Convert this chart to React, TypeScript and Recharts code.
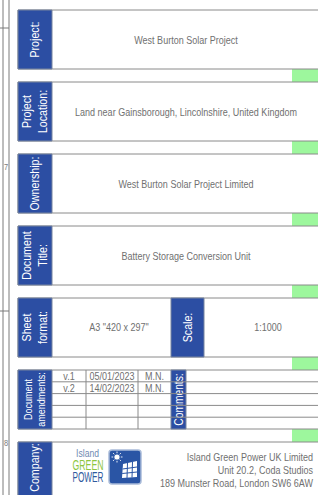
import {
  ComposedChart,
  ReferenceArea,
  ReferenceDot,
  ReferenceLine,
  XAxis,
  YAxis,
} from "recharts";

// title block content
const fieldLabels = [["Project:"], ["Project", "Location:"], ["Ownership:"], ["Document", "Title:"]];
const fieldValues = [
  "West Burton Solar Project",
  "Land near Gainsborough, Lincolnshire, United Kingdom",
  "West Burton Solar Project Limited",
  "Battery Storage Conversion Unit",
];
const sheetLabel = ["Sheet", "format:"];
const sheetValue = 'A3 "420 x 297"';
const scaleLabel = ["Scale:"];
const scaleValue = "1:1000";
const amendLabel = ["Document", "amendments:"];
const revVersions = ["v.1", "v.2", "", "", ""];
const revDates = ["05/01/2023", "14/02/2023", "", "", ""];
const revAuthors = ["M.N.", "M.N.", "", "", ""];
const commentsLabel = ["Comments:"];
const companyLabel = ["Company:"];
const logoWords = ["Island", "GREEN", "POWER"];
const companyAddress = [
  "Island Green Power UK Limited",
  "Unit 20.2, Coda Studios",
  "189 Munster Road, London SW6 6AW",
];
const zoneNumbers = ["7", "8"];
const zoneY = [167, 443];
const zoneTicks = [28, 311];

const W = 318;
const H = 495;
const CW = 330;
const CH = 510;
const TOP0 = 10;
const PITCH = 72;
const ROW_H = 59;
const BOX_L = 18;
const LABEL_R = 52;
const GREEN_L = 292;

const FONT = '"Liberation Sans", Arial, sans-serif';
const NARROW = 0.82; // no narrow face installed, squeeze the regular one
const BLUE = "#2c4ea3";
const GREY_TEXT = "#707070";
const BORDER = "#8a8a8a";
const GREEN = "#9df79d";

const TextLabel = (props: any) => {
  const {
    viewBox,
    lines = [],
    size = 11,
    color = GREY_TEXT,
    rotate = false,
    lh = 15,
    anchor = "middle",
    weight = "normal",
    shift = 0,
    textLength,
  } = props;
  if (!viewBox) return null;
  const cx = viewBox.x + viewBox.width / 2;
  const cy = viewBox.y + viewBox.height / 2 + shift;
  return (
    <g>
      {lines.map((t: string, i: number) => {
        const off = (i - (lines.length - 1) / 2) * lh;
        const x = rotate ? cx + off : cx;
        const y = rotate ? cy : cy + off;
        const sx = textLength ? 1 : NARROW;
        return (
          <text
            key={i}
            x={0}
            y={0}
            fill={color}
            fontSize={size}
            fontFamily={FONT}
            fontWeight={weight}
            textAnchor={anchor}
            dominantBaseline="central"
            textLength={textLength}
            lengthAdjust={textLength ? "spacingAndGlyphs" : undefined}
            transform={`translate(${x} ${y}) rotate(${rotate ? -90 : 0}) scale(${sx} 1)`}
          >
            {t}
          </text>
        );
      })}
    </g>
  );
};

const LogoIcon = (props: any) => {
  const { viewBox } = props;
  if (!viewBox) return null;
  const { x, y } = viewBox;
  const rays = [0, 45, 90, 135, 180, 225, 270, 315];
  return (
    <g>
      <circle cx={x + 8} cy={y + 7} r={2.6} fill="#fff" />
      {rays.map((a) => {
        const r = (a * Math.PI) / 180;
        return (
          <line
            key={a}
            x1={x + 8 + Math.cos(r) * 3.8}
            y1={y + 7 + Math.sin(r) * 3.8}
            x2={x + 8 + Math.cos(r) * 5.5}
            y2={y + 7 + Math.sin(r) * 5.5}
            stroke="#fff"
            strokeWidth={0.9}
          />
        );
      })}
      <polygon
        points={`${x + 14},${y + 14} ${x + 28},${y + 11} ${x + 28},${y + 27} ${x + 13},${y + 28}`}
        fill="#fff"
      />
      <line x1={x + 18.5} y1={y + 13} x2={x + 18} y2={y + 28} stroke="#2a55a5" strokeWidth={1} />
      <line x1={x + 23.5} y1={y + 12} x2={x + 23} y2={y + 27.5} stroke="#2a55a5" strokeWidth={1} />
      <line x1={x + 13.5} y1={y + 19} x2={x + 28} y2={y + 17} stroke="#2a55a5" strokeWidth={1} />
      <line x1={x + 13.2} y1={y + 23.5} x2={x + 28} y2={y + 22} stroke="#2a55a5" strokeWidth={1} />
    </g>
  );
};

const rowTop = (i: number) => TOP0 + PITCH * i;

const box = (i: number) => (
  <ReferenceArea
    key={`box-${i}`}
    x1={BOX_L}
    x2={CW}
    y1={rowTop(i)}
    y2={rowTop(i) + ROW_H}
    fill="#fff"
    fillOpacity={1}
    stroke={BORDER}
    strokeWidth={1}
    ifOverflow="visible"
  />
);

const blueLabel = (
  key: string,
  x1: number,
  x2: number,
  y1: number,
  y2: number,
  lines: string[],
  size = 13,
  lh = 16,
  shift = 0
) => (
  <ReferenceArea
    key={key}
    x1={x1}
    x2={x2}
    y1={y1}
    y2={y2}
    fill={BLUE}
    fillOpacity={1}
    stroke="#76849f"
    strokeWidth={1}
    ifOverflow="visible"
    label={<TextLabel lines={lines} color="#fff" size={size} lh={lh} shift={shift} rotate />}
  />
);

const textDot = (key: string, x: number, y: number, lines: string[], extra: any = {}) => (
  <ReferenceDot
    key={key}
    x={x}
    y={y}
    r={0}
    fill="none"
    stroke="none"
    ifOverflow="visible"
    label={<TextLabel lines={lines} {...extra} />}
  />
);

export default function App() {
  const frame = [
    { x: 0, y: 0 },
    { x: CW, y: CH },
  ];
  const amendTop = rowTop(5);
  const rowStep = ROW_H / 5;
  const companyTop = rowTop(6);
  const sheetTop = rowTop(4);

  return (
    <div style={{ position: "absolute", left: 0, top: 0, width: W, height: H, overflow: "hidden", background: "#fff" }}>
      <ComposedChart width={CW} height={CH} data={frame} margin={{ top: 0, right: 0, bottom: 0, left: 0 }}>
        <XAxis type="number" dataKey="x" domain={[0, CW]} hide allowDataOverflow />
        <YAxis type="number" dataKey="y" domain={[0, CH]} reversed hide allowDataOverflow />

        {/* drawing frame at the left edge */}
        <ReferenceLine x={3} stroke="#7a7a7a" strokeWidth={1} ifOverflow="visible" />
        <ReferenceLine x={9} stroke="#7a7a7a" strokeWidth={1} ifOverflow="visible" />
        {zoneTicks.map((y) => (
          <ReferenceLine
            key={`tick-${y}`}
            segment={[
              { x: 0, y },
              { x: 9, y },
            ]}
            stroke="#7a7a7a"
            ifOverflow="visible"
          />
        ))}
        {zoneNumbers.map((n, i) => textDot(`zone-${n}`, 6, zoneY[i], [n], { size: 9, color: "#7a7a7a" }))}

        {/* green strips between boxes */}
        {[0, 1, 2, 3, 4, 5].map((i) => (
          <ReferenceArea
            key={`green-${i}`}
            x1={GREEN_L}
            x2={CW}
            y1={rowTop(i) + ROW_H}
            y2={rowTop(i + 1)}
            fill={GREEN}
            fillOpacity={1}
            stroke="none"
            ifOverflow="visible"
          />
        ))}

        {[0, 1, 2, 3, 4, 5, 6].map((i) => box(i))}

        {/* simple text fields */}
        {fieldLabels.map((lines, i) => blueLabel(`lab-${i}`, BOX_L, LABEL_R, rowTop(i), rowTop(i) + ROW_H, lines))}
        {fieldValues.map((v, i) => textDot(`val-${i}`, 186, rowTop(i) + ROW_H / 2 + 1, [v]))}

        {/* sheet format + scale */}
        {blueLabel("lab-sheet", BOX_L, LABEL_R, sheetTop, sheetTop + ROW_H, sheetLabel)}
        {textDot("val-sheet", 119, sheetTop + ROW_H / 2, [sheetValue])}
        {blueLabel("lab-scale", 171, 204, sheetTop, sheetTop + ROW_H, scaleLabel)}
        {textDot("val-scale", 268, sheetTop + ROW_H / 2, [scaleValue])}

        {/* amendments table */}
        {[1, 2, 3, 4].map((k) => (
          <ReferenceLine
            key={`rl-${k}`}
            segment={[
              { x: LABEL_R, y: amendTop + rowStep * k },
              { x: CW, y: amendTop + rowStep * k },
            ]}
            stroke={BORDER}
            ifOverflow="visible"
          />
        ))}
        {[86, 138].map((x) => (
          <ReferenceLine
            key={`cl-${x}`}
            segment={[
              { x, y: amendTop },
              { x, y: amendTop + ROW_H },
            ]}
            stroke={BORDER}
            ifOverflow="visible"
          />
        ))}
        {revVersions.map((v, k) => textDot(`rv-${k}`, 69, amendTop + rowStep * k + rowStep / 2, [v], { size: 11 }))}
        {revDates.map((v, k) => textDot(`rd-${k}`, 112, amendTop + rowStep * k + rowStep / 2, [v], { size: 11 }))}
        {revAuthors.map((v, k) => textDot(`ra-${k}`, 154.5, amendTop + rowStep * k + rowStep / 2, [v], { size: 11 }))}
        {blueLabel("lab-amend", BOX_L, LABEL_R, amendTop, amendTop + ROW_H, amendLabel, 11, 13)}
        {blueLabel("lab-comments", 171, 186, amendTop, amendTop + ROW_H, commentsLabel, 12.5, 14)}

        {/* company */}
        {blueLabel("lab-company", BOX_L, LABEL_R, companyTop, companyTop + ROW_H, companyLabel, 13, 16, -4)}
        {textDot("logo-0", 99, companyTop + 11.5, [logoWords[0]], { size: 10.5, color: "#6f8ab2", anchor: "end" })}
        {textDot("logo-1", 88, companyTop + 23, [logoWords[1]], { size: 14, color: "#8dc63f", textLength: 31 })}
        {textDot("logo-2", 88, companyTop + 35, [logoWords[2]], { size: 14, color: "#2f5a9e", textLength: 31 })}
        <ReferenceArea
          x1={109}
          x2={141}
          y1={companyTop + 8}
          y2={companyTop + 42}
          fill="#2a55a5"
          fillOpacity={1}
          stroke="#a9bbd9"
          strokeWidth={1.5}
          radius={3}
          ifOverflow="visible"
          label={<LogoIcon />}
        />
        {companyAddress.map((t, k) =>
          textDot(`addr-${k}`, 313, companyTop + 15 + k * 13, [t], { anchor: "end", size: 11 })
        )}
      </ComposedChart>
    </div>
  );
}
